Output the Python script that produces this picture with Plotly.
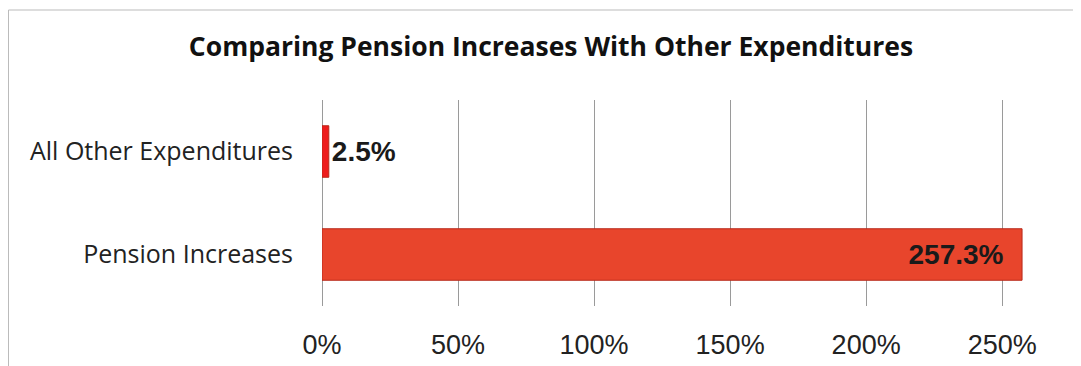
import plotly.graph_objects as go

categories = ["Pension Increases", "All Other Expenditures"]
values = [257.3, 2.5]
bar_colors = ["#E8452C", "#EE1C1C"]
text_positions = ["inside", "outside"]
tick_vals = [0, 50, 100, 150, 200, 250]
tick_text = ["0%", "50%", "100%", "150%", "200%", "250%"]

# the page body has an 8px margin, so figure coordinates = screen - 8
W, H = 1073, 358
L, R, T, B = 314, 38, 92, 60
pw, ph = W - L - R, H - T - B

fig = go.Figure(go.Bar(
    y=categories, x=values, orientation="h",
    marker=dict(color=bar_colors, line=dict(color="#B8281A", width=1)),
    width=0.5,
    texttemplate="%{x}%\u00a0\u00a0",
    textposition=text_positions,
    insidetextanchor="end",
    textfont=dict(family="Liberation Sans, Arial", size=28, color="#1a1a1a", weight="bold"),
    cliponaxis=False,
))

fig.update_layout(
    width=W, height=H,
    margin=dict(l=L, r=R, t=T, b=B, autoexpand=False),
    paper_bgcolor="white", plot_bgcolor="white",
    showlegend=False,
    title=dict(text="<b>Comparing Pension Increases With Other Expenditures</b>",
               x=543 / W, xref="container", xanchor="center",
               y=1 - 39 / H, yref="container", yanchor="middle",
               font=dict(family="Open Sans", size=26.5, color="#111")),
    bargap=0.5,
)

fig.update_xaxes(range=[0, 265], tickvals=tick_vals, ticktext=tick_text,
                 showgrid=True, gridcolor="#9a9a9a", gridwidth=1,
                 zeroline=True, zerolinecolor="#9a9a9a", zerolinewidth=1,
                 showline=False, ticks="", automargin=False,
                 ticklabelstandoff=20,
                 tickfont=dict(family="Liberation Sans, Arial", size=27, color="#222"))
fig.update_yaxes(showgrid=False, zeroline=False, showline=False, ticks="",
                 automargin=False, ticklabelstandoff=28,
                 tickfont=dict(family="Open Sans", size=25, color="#222"))

# outer border box
fig.add_shape(type="rect", xref="paper", yref="paper",
              x0=(0.5 - L) / pw, x1=(1067 - L) / pw,
              y0=1 + (T - 2) / ph, y1=-(B + 5) / ph,
              line=dict(color="#bbbbbb", width=1), fillcolor="rgba(0,0,0,0)", layer="below")

fig.write_html("out.html")
